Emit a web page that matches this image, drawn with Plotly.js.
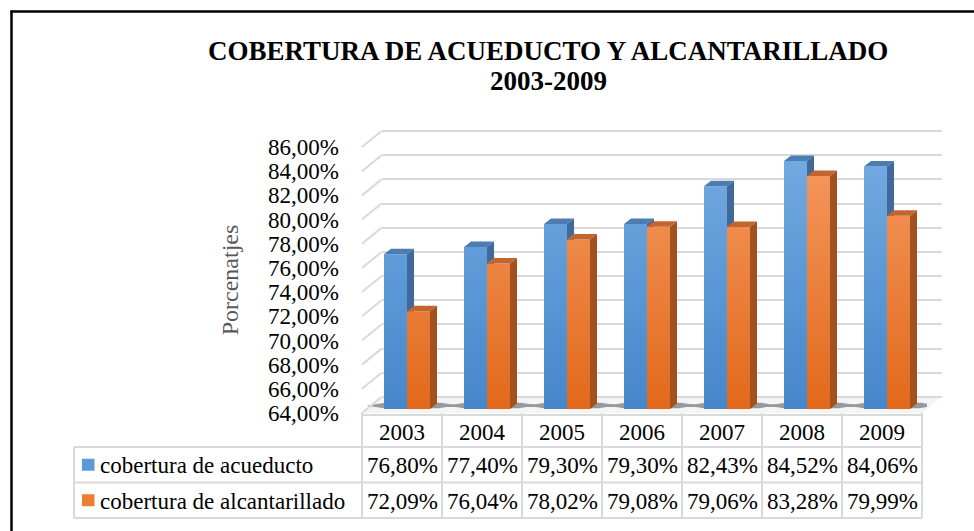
<!DOCTYPE html>
<html><head><meta charset="utf-8">
<script src="https://cdn.plot.ly/plotly-3.0.1.min.js"></script>
<style>html,body{margin:0;padding:0;background:#fff}#chart{width:974px;height:531px}</style>
</head><body><div id="chart"></div>
<script>
// ---- data ----
const years = ['2003','2004','2005','2006','2007','2008','2009'];
const acueducto = [76.80, 77.40, 79.30, 79.30, 82.43, 84.52, 84.06];
const alcantarillado = [72.09, 76.04, 78.02, 79.08, 79.06, 83.28, 79.99];
const seriesNames = ['cobertura de acueducto', 'cobertura de alcantarillado'];
const tickValues = [64,66,68,70,72,74,76,78,80,82,84,86];
const titleLines = ['COBERTURA DE ACUEDUCTO Y ALCANTARILLADO', '2003-2009'];
const yTitle = 'Porcenatjes';

// ---- geometry (pixels) ----
const W = 974, H = 531;
const PX = x => x / W, PY = y => 1 - y / H;
const FX0 = 362, FX1 = 922, FY64 = 413, K = 12.09;
const BACK_DX = 19.5, BACK_DY = 16;
const BAR_DX = 5, BAR_DY = 4;
const YMIN = 64, YMAX = 86;
const BW = 23 / 80, DX = 7 / 80, DY = 5.5 / K;
const FONT = 'Liberation Serif';

const BLUE = {front:[[0,'#4587cb'],[1,'#72a9e0']], fc:'#5b9bd5', top:'#4d7cb2', side:'#41699a'};
const ORANGE = {front:[[0,'#e2691b'],[1,'#f39459']], fc:'#ed7d31', top:'#c3652f', side:'#a1521f'};

const fmt = v => v.toFixed(2).replace('.', ',') + '%';

function faces(vals, left) {
  const f = {fx:[],fy:[],tx:[],ty:[],sx:[],sy:[]};
  vals.forEach((v,i) => {
    const xl = left ? i - BW : i, xr = left ? i : i + BW;
    f.fx.push(xl, xr, xr, xl, xl, null); f.fy.push(YMIN, YMIN, v, v, YMIN, null);
    f.tx.push(xl, xr, xr+DX, xl+DX, xl, null); f.ty.push(v, v, v+DY, v+DY, v, null);
    f.sx.push(xr, xr+DX, xr+DX, xr, xr, null); f.sy.push(YMIN, YMIN+DY, v+DY, v, YMIN, null);
  });
  return f;
}
function poly(x, y, color, grad) {
  const t = {type:'scatter', mode:'lines', x, y, xaxis:'x2', yaxis:'y2', fill:'toself',
    fillcolor: color, line:{width:0, color:color}, hoverinfo:'skip'};
  if (grad) t.fillgradient = {type:'vertical', colorscale: grad};
  return t;
}
// shadows
const shx = [], shy = [];
years.forEach((_, i) => {
  const l = i - BW, r = i + BW + DX;
  shx.push(l-0.22, l, r+0.02, r+0.25, r+0.05, l, l-0.22, null);
  shy.push(YMIN+0.28, YMIN+0.06, YMIN+0.06, YMIN+0.3, YMIN+0.52, YMIN+0.5, YMIN+0.28, null);
});

const fb = faces(acueducto, true), fo = faces(alcantarillado, false);
const traces = [
  {type:'scatter', x:[], y:[], xaxis:'x', yaxis:'y', hoverinfo:'skip'},
  {type:'scatter', mode:'lines', x:shx, y:shy, xaxis:'x2', yaxis:'y2', fill:'toself',
   fillcolor:'rgba(60,60,60,0.5)', line:{width:0}, hoverinfo:'skip'},
  poly(fb.fx, fb.fy, BLUE.fc, BLUE.front), poly(fb.tx, fb.ty, BLUE.top), poly(fb.sx, fb.sy, BLUE.side),
  poly(fo.fx, fo.fy, ORANGE.fc, ORANGE.front), poly(fo.tx, fo.ty, ORANGE.top), poly(fo.sx, fo.sy, ORANGE.side),
  {type:'scatter', x:[], y:[], xaxis:'x3', yaxis:'y3', hoverinfo:'skip'}
];

// ---- shapes ----
const GRID = '#d9d9d9';
const shapes = [];
// floor
shapes.push({type:'path', xref:'paper', yref:'y', layer:'below',
  path:`M ${PX(FX0)} ${YMIN-BACK_DY/K} L ${PX(FX1)} ${YMIN-BACK_DY/K} L ${PX(FX1+BACK_DX)} ${YMIN} L ${PX(FX0+BACK_DX)} ${YMIN} Z`,
  fillcolor:'#f4f4f4', line:{width:0}});
// side-wall gridlines
tickValues.forEach(v => shapes.push({type:'line', xref:'paper', yref:'y', x0:PX(FX0), y0:v-BACK_DY/K,
  x1:PX(FX0+BACK_DX), y1:v, line:{color:GRID, width:2}}));
// table
const TX0 = 74, TC0 = 362, CW = 80, TY = [415, 447, 482.5, 518];
const TX1 = TC0 + CW * years.length;
const hl = (x0,x1,y) => shapes.push({type:'line', xref:'paper', yref:'paper', x0:PX(x0), x1:PX(x1), y0:PY(y), y1:PY(y), line:{color:GRID, width:2}});
const vl = (x,y0,y1) => shapes.push({type:'line', xref:'paper', yref:'paper', x0:PX(x), x1:PX(x), y0:PY(y0), y1:PY(y1), line:{color:GRID, width:2}});
hl(TC0, TX1, TY[0]); hl(TX0, TX1, TY[1]); hl(TX0, TX1, TY[2]); hl(TX0, TX1, TY[3]);
vl(TX0, TY[1], TY[3]);
for (let i = 0; i <= years.length; i++) vl(TC0 + CW*i, 413, TY[3]);
// legend keys
[BLUE.fc, ORANGE.fc].forEach((c, r) => {
  const yc = (TY[r+1] + TY[r+2]) / 2;
  shapes.push({type:'rect', xref:'paper', yref:'paper', x0:PX(82), x1:PX(94.5), y0:PY(yc+6), y1:PY(yc-6),
    fillcolor:c, line:{width:0}});
});
// frame
shapes.push({type:'line', xref:'paper', yref:'paper', x0:PX(11.5), x1:PX(11.5), y0:0, y1:PY(10.5), line:{color:'#000', width:2.5}});
shapes.push({type:'line', xref:'paper', yref:'paper', x0:PX(10.5), x1:1, y0:PY(11.5), y1:PY(11.5), line:{color:'#000', width:2.5}});

// ---- annotations ----
const annotations = [];
const txt = (t, x, y, anchor, size) => annotations.push({text:t, xref:'paper', yref:'paper', x:PX(x), y:PY(y),
  xanchor:anchor || 'center', yanchor:'middle', showarrow:false, font:{family:FONT, size:size || 23, color:'#000'}});
titleLines.forEach((t, k) => txt('<b>' + t + '</b>', 548, 51 + 30*k, 'center', 27));
years.forEach((yr, i) => {
  const xc = TC0 + CW*i + CW/2;
  txt(yr, xc, (TY[0]+TY[1])/2 + 1);
  txt(fmt(acueducto[i]), xc, (TY[1]+TY[2])/2 + 1);
  txt(fmt(alcantarillado[i]), xc, (TY[2]+TY[3])/2 + 1);
});
seriesNames.forEach((n, r) => txt(n, 98, (TY[r+1]+TY[r+2])/2 + 1, 'left'));

const BACK_TOP = 86.6;
const layout = {
  width: W, height: H, margin:{l:0, r:0, t:0, b:0},
  paper_bgcolor:'#ffffff', plot_bgcolor:'rgba(0,0,0,0)', showlegend:false,
  font:{family:FONT, color:'#000'},
  xaxis:{domain:[PX(FX0+BACK_DX), PX(FX1+BACK_DX)], range:[-0.5, 6.5], visible:false, fixedrange:true},
  yaxis:{domain:[PY(FY64-BACK_DY+1.5*K), PY(FY64-BACK_DY-(BACK_TOP-YMIN)*K)], range:[62.5, BACK_TOP], tickmode:'array', tickvals:tickValues,
    showticklabels:false, showgrid:true, gridcolor:GRID, gridwidth:2, zeroline:false, showline:false, ticks:'', fixedrange:true},
  xaxis2:{domain:[PX(FX0+BAR_DX), PX(FX1+BAR_DX)], range:[-0.5, 6.5], visible:false, anchor:'y2', fixedrange:true},
  yaxis2:{domain:[PY(FY64-BAR_DY), PY(FY64-BAR_DY-22*K)], range:[YMIN, YMAX], visible:false, anchor:'x2', fixedrange:true},
  xaxis3:{domain:[PX(FX0), PX(FX1)], range:[-0.5, 6.5], visible:false, anchor:'y3', fixedrange:true},
  yaxis3:{domain:[PY(FY64), PY(FY64-22*K)], range:[YMIN, YMAX], anchor:'x3', tickmode:'array', tickvals:tickValues,
    ticktext:tickValues.map(fmt), showgrid:false, zeroline:false, showline:false, ticks:'',
    ticklabelstandoff:22, tickfont:{family:FONT, size:23, color:'#000'}, fixedrange:true,
    title:{text:yTitle, font:{family:FONT, size:24, color:'#595959'}, standoff:22}},
  shapes, annotations
};
Plotly.newPlot('chart', traces, layout, {displayModeBar:false, staticPlot:true});
</script>
</body></html>
